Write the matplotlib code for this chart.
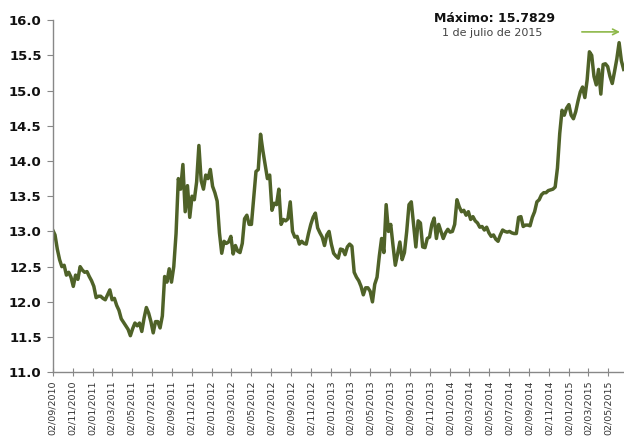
import matplotlib
matplotlib.use("Agg")
import matplotlib.pyplot as plt
import matplotlib.dates as mdates
import pandas as pd

# weekly readings of the rate, starting 02/09/2010
start_date = "2010-09-02"
rate = [
    13.02, 12.95, 12.75, 12.60, 12.50, 12.52, 12.38, 12.42, 12.35, 12.22,
    12.38, 12.32, 12.50, 12.45, 12.42, 12.43, 12.36, 12.30, 12.22, 12.06,
    12.08, 12.08, 12.05, 12.03, 12.10, 12.17, 12.03, 12.05, 11.95, 11.88,
    11.76, 11.71, 11.66, 11.61, 11.52, 11.62, 11.70, 11.66, 11.70, 11.58,
    11.77, 11.92, 11.84, 11.72, 11.56, 11.72, 11.72, 11.63, 11.80, 12.36,
    12.28, 12.47, 12.28, 12.50, 12.97, 13.75, 13.60, 13.95, 13.28, 13.65,
    13.20, 13.50, 13.45, 13.70, 14.22, 13.72, 13.60, 13.80, 13.75, 13.88,
    13.64, 13.55, 13.43, 12.98, 12.69, 12.86, 12.83, 12.85, 12.93, 12.68,
    12.80, 12.72, 12.70, 12.83, 13.18, 13.23, 13.10, 13.10, 13.48, 13.85,
    13.88, 14.38, 14.15, 13.95, 13.75, 13.80, 13.30, 13.40, 13.38, 13.60,
    13.10, 13.17, 13.15, 13.18, 13.42, 13.00, 12.92, 12.93, 12.82, 12.86,
    12.83, 12.82, 12.97, 13.10, 13.20, 13.26, 13.05, 12.98, 12.92, 12.80,
    12.95, 13.00, 12.82, 12.69, 12.65, 12.62, 12.75, 12.74, 12.67, 12.78,
    12.82, 12.79, 12.42, 12.35, 12.30, 12.22, 12.10, 12.20, 12.20, 12.15,
    12.00, 12.25, 12.35, 12.65, 12.90, 12.70, 13.38, 13.00, 13.10, 12.80,
    12.52, 12.68, 12.85, 12.60, 12.70, 13.00, 13.38, 13.42, 13.10, 12.78,
    13.15, 13.12, 12.78, 12.77, 12.90, 12.92, 13.10, 13.19, 12.90, 13.10,
    13.00, 12.90, 12.98, 13.03, 12.99, 13.00, 13.10, 13.45, 13.35, 13.28,
    13.30, 13.23, 13.28, 13.17, 13.21, 13.15, 13.12, 13.06, 13.07, 13.02,
    13.06, 12.98, 12.93, 12.95, 12.89, 12.86, 12.95, 13.02, 13.00, 12.99,
    13.00, 12.98, 12.97, 12.97, 13.20, 13.21, 13.07, 13.09, 13.09, 13.08,
    13.20, 13.28, 13.42, 13.45, 13.52, 13.55, 13.55, 13.58, 13.59, 13.60,
    13.63, 13.90, 14.39, 14.72, 14.65, 14.75, 14.80, 14.65, 14.60, 14.70,
    14.85, 14.98, 15.05, 14.90, 15.15, 15.55, 15.50, 15.20, 15.08, 15.30,
    14.95, 15.37, 15.38, 15.34, 15.20, 15.10, 15.27, 15.45, 15.68, 15.42,
    15.30,
]
dates = pd.date_range(start_date, periods=len(rate), freq="7D")

max_label = "Máximo: 15.7829"
max_date_label = "1 de julio de 2015"

fig = plt.figure(figsize=(6.24, 4.37), dpi=100)
ax = fig.add_axes([0.0845, 0.148, 0.9155, 0.806])

ax.plot(dates, rate, color="#4F6228", lw=2.5, solid_joinstyle="round")

ax.set_ylim(11, 16)
ax.set_yticks([11.0, 11.5, 12.0, 12.5, 13.0, 13.5, 14.0, 14.5, 15.0, 15.5, 16.0])
ax.yaxis.set_major_formatter(plt.FormatStrFormatter("%.1f"))
ax.set_xlim(pd.Timestamp("2010-09-02"), pd.Timestamp("2015-06-19"))
ax.xaxis.set_major_locator(mdates.MonthLocator(bymonth=[1, 3, 5, 7, 9, 11], bymonthday=2))
ax.xaxis.set_major_formatter(mdates.DateFormatter("%d/%m/%Y"))

for s in ["top", "right"]:
    ax.spines[s].set_visible(False)
for s in ["left", "bottom"]:
    ax.spines[s].set_color("#888888")
    ax.spines[s].set_linewidth(1.0)

ax.tick_params(axis="y", length=4, color="#888888", pad=4)
ax.tick_params(axis="x", direction="inout", length=6, color="#888888", pad=3)
for lab in ax.get_yticklabels():
    lab.set_fontsize(9.5)
    lab.set_fontweight("bold")
    lab.set_color("#111111")
for lab in ax.get_xticklabels():
    lab.set_fontsize(6.8)
    lab.set_rotation(90)
    lab.set_color("#333333")

fig.text(0.792, 0.957, max_label, ha="center", va="center", fontsize=9, fontweight="bold", color="#111111")
fig.text(0.789, 0.924, max_date_label, ha="center", va="center", fontsize=8, color="#444444")
ax.annotate("", xy=(0.998, 0.927), xytext=(0.928, 0.927), xycoords="figure fraction",
            textcoords="figure fraction",
            arrowprops=dict(arrowstyle="->", color="#8DB848", lw=1.2))

fig.savefig("out.png", dpi=100)
